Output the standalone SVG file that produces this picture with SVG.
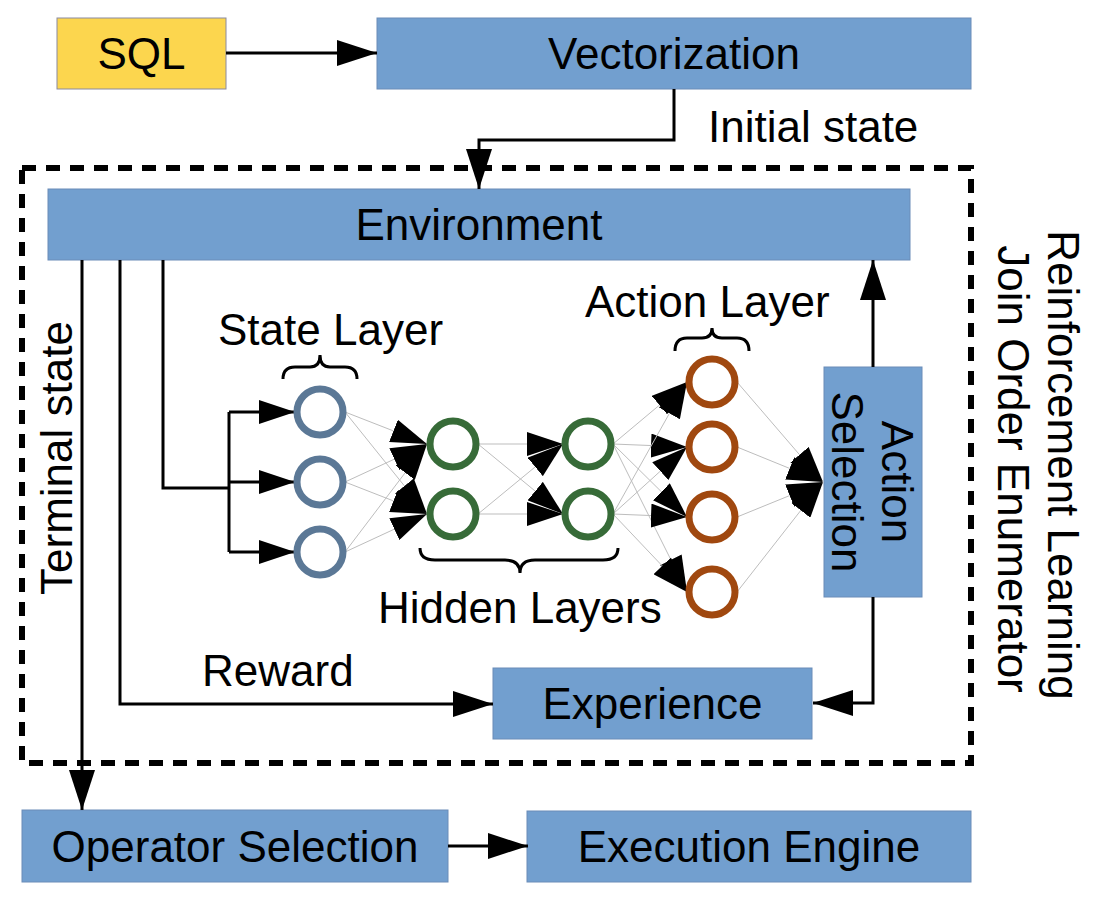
<svg xmlns="http://www.w3.org/2000/svg" width="1110" height="908" viewBox="0 0 1110 908">
<style>
  text { font-family: "Liberation Sans", Arial, sans-serif; font-size: 44px; fill: #000; }
  .box { fill: #729fcf; stroke: #6a8cb8; stroke-width: 1; }
  .sql { fill: #fcd64e; stroke: #8a8aa0; stroke-width: 1; }
  .c { fill: none; stroke: #000; stroke-width: 3; }
  .nn { fill: none; stroke: #bdbdbd; stroke-width: 1; }
  .brace { fill: none; stroke: #000; stroke-width: 3; }
  .st { fill: #fff; stroke: #5b7896; stroke-width: 7; }
  .hd { fill: #fff; stroke: #376b38; stroke-width: 7; }
  .ac { fill: #fff; stroke: #a0480f; stroke-width: 7; }
  .mid { text-anchor: middle; }
</style>
<defs>
  <marker id="ah" markerUnits="userSpaceOnUse" markerWidth="40" markerHeight="26" refX="40" refY="13" orient="auto" viewBox="0 0 40 26">
    <path d="M0,0 L40,13 L0,26 z" fill="#000"/>
  </marker>
  <marker id="ahs" markerUnits="userSpaceOnUse" markerWidth="36" markerHeight="24" refX="36" refY="12" orient="auto" viewBox="0 0 36 24">
    <path d="M0,0 L36,12 L0,24 z" fill="#000"/>
  </marker>
</defs>

<g id="enumerator-frame">
  <rect x="22" y="168" width="949" height="595" fill="none" stroke="#000" stroke-width="6" stroke-dasharray="14 10"/>
  <text class="mid" transform="translate(1048,465) rotate(90)">Reinforcement Learning</text>
  <text class="mid" transform="translate(998,469) rotate(90)">Join Order Enumerator</text>
</g>

<g id="sql">
  <rect class="sql" x="57" y="18" width="169" height="71"/>
  <text class="mid" x="141.5" y="69">SQL</text>
</g>
<g id="vectorization">
  <rect class="box" x="377" y="18" width="594" height="71"/>
  <text class="mid" x="674" y="69">Vectorization</text>
</g>
<g id="environment">
  <rect class="box" x="48" y="189" width="862" height="71"/>
  <text class="mid" x="479" y="240">Environment</text>
</g>
<g id="action-selection">
  <rect class="box" x="824" y="367" width="98" height="230"/>
  <text class="mid" transform="translate(882,482) rotate(90)">Action</text>
  <text class="mid" transform="translate(832,482) rotate(90)">Selection</text>
</g>
<g id="experience">
  <rect class="box" x="493" y="668" width="319" height="71"/>
  <text class="mid" x="652.5" y="719">Experience</text>
</g>
<g id="operator-selection">
  <rect class="box" x="22" y="810" width="426" height="72"/>
  <text class="mid" x="235" y="862">Operator Selection</text>
</g>
<g id="execution-engine">
  <rect class="box" x="527" y="811" width="444" height="71"/>
  <text class="mid" x="749" y="862">Execution Engine</text>
</g>

<g id="connectors">
  <path class="c" d="M226,53 H377" marker-end="url(#ah)"/>
  <path class="c" d="M674,89 V140 H479 V189" marker-end="url(#ah)"/>
  <path class="c" d="M82,260 V810" marker-end="url(#ah)"/>
  <path class="c" d="M120,260 V704 H493" marker-end="url(#ah)"/>
  <path class="c" d="M163,260 V488 H229"/>
  <path class="c" d="M229,412 V552"/>
  <path class="c" d="M229,412 H295" marker-end="url(#ahs)"/>
  <path class="c" d="M229,482 H295" marker-end="url(#ahs)"/>
  <path class="c" d="M229,552 H295" marker-end="url(#ahs)"/>
  <path class="c" d="M873,367 V260" marker-end="url(#ah)"/>
  <path class="c" d="M873,597 V703 H813" marker-end="url(#ah)"/>
  <path class="c" d="M448,846 H528" marker-end="url(#ah)"/>

  <g id="nn-links">
    <path class="nn" d="M345,412 L427,444" marker-end="url(#ahs)"/>
    <path class="nn" d="M345,412 L427,514" marker-end="url(#ahs)"/>
    <path class="nn" d="M345,482 L427,444" marker-end="url(#ahs)"/>
    <path class="nn" d="M345,482 L427,514" marker-end="url(#ahs)"/>
    <path class="nn" d="M345,552 L427,444" marker-end="url(#ahs)"/>
    <path class="nn" d="M345,552 L427,514" marker-end="url(#ahs)"/>

    <path class="nn" d="M478,444 L563,444" marker-end="url(#ahs)"/>
    <path class="nn" d="M478,444 L563,514" marker-end="url(#ahs)"/>
    <path class="nn" d="M478,514 L563,444" marker-end="url(#ahs)"/>
    <path class="nn" d="M478,514 L563,514" marker-end="url(#ahs)"/>

    <path class="nn" d="M613,444 L687,382" marker-end="url(#ahs)"/>
    <path class="nn" d="M613,444 L687,447" marker-end="url(#ahs)"/>
    <path class="nn" d="M613,444 L687,517" marker-end="url(#ahs)"/>
    <path class="nn" d="M613,444 L687,592" marker-end="url(#ahs)"/>
    <path class="nn" d="M613,514 L687,382" marker-end="url(#ahs)"/>
    <path class="nn" d="M613,514 L687,447" marker-end="url(#ahs)"/>
    <path class="nn" d="M613,514 L687,517" marker-end="url(#ahs)"/>
    <path class="nn" d="M613,514 L687,592" marker-end="url(#ahs)"/>

    <path class="nn" d="M737,382 L823,482" marker-end="url(#ahs)"/>
    <path class="nn" d="M737,447 L823,482" marker-end="url(#ahs)"/>
    <path class="nn" d="M737,517 L823,482" marker-end="url(#ahs)"/>
    <path class="nn" d="M737,592 L823,482" marker-end="url(#ahs)"/>
  </g>
</g>

<g id="labels">
  <text x="708" y="142">Initial state</text>
  <text class="mid" transform="translate(72,458) rotate(-90)">Terminal state</text>
  <text x="202" y="686">Reward</text>
</g>

<g id="state-layer">
  <text x="218" y="345">State Layer</text>
  <path class="brace" d="M283,379 Q283,367 295,367 H310 Q320,367 320,355 Q320,367 330,367 H345 Q357,367 357,379"/>
  <circle class="st" cx="320" cy="412" r="23"/>
  <circle class="st" cx="320" cy="482" r="23"/>
  <circle class="st" cx="320" cy="552" r="23"/>
</g>
<g id="hidden-layers">
  <circle class="hd" cx="453" cy="444" r="23"/>
  <circle class="hd" cx="453" cy="514" r="23"/>
  <circle class="hd" cx="588" cy="444" r="23"/>
  <circle class="hd" cx="588" cy="514" r="23"/>
  <path class="brace" d="M420,548 Q420,560 435,560 H505 Q520,560 520,573 Q520,560 535,560 H603 Q618,560 618,548"/>
  <text x="378" y="623">Hidden Layers</text>
</g>
<g id="action-layer">
  <text x="585" y="317">Action Layer</text>
  <path class="brace" d="M675,351 Q675,338 687,338 H702 Q712,338 712,328 Q712,338 722,338 H737 Q749,338 749,351"/>
  <circle class="ac" cx="712" cy="382" r="23"/>
  <circle class="ac" cx="712" cy="447" r="23"/>
  <circle class="ac" cx="712" cy="517" r="23"/>
  <circle class="ac" cx="712" cy="592" r="23"/>
</g>
</svg>
